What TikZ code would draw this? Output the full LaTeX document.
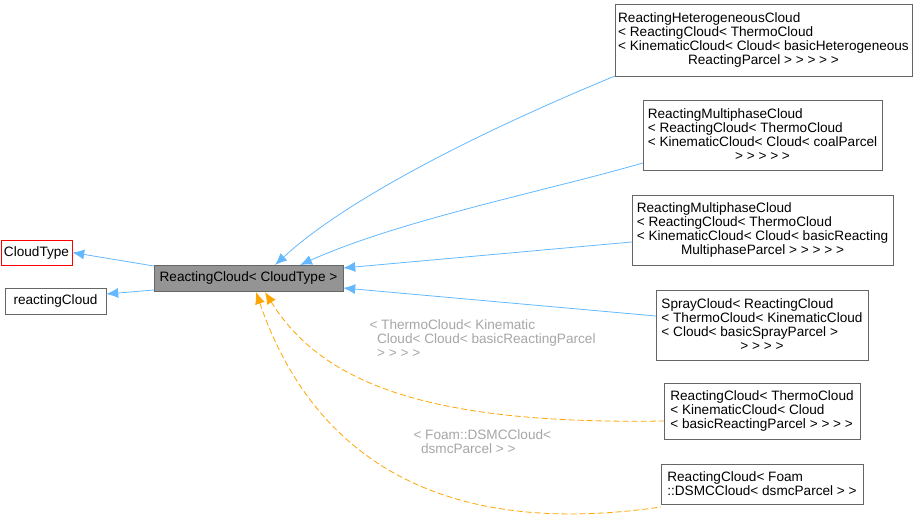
\documentclass[tikz,border=0pt]{standalone}
\usepackage{fontspec}
\setmainfont{Liberation Sans}
\usetikzlibrary{arrows.meta,positioning}
\definecolor{inhblue}{RGB}{99,184,255}
\definecolor{tmplorange}{RGB}{255,165,0}
\begin{document}
\begin{tikzpicture}[
	x=1pt,y=-1pt,
	font=\fontsize{13.6}{14}\selectfont,
	box/.style={draw=black!60,fill=white,inner sep=3pt,align=left},
	inh/.style={draw=inhblue,thick,{Latex[length=12pt,width=10pt]}-},
	tmpl/.style={draw=tmplorange,thick,dash pattern=on 6pt off 3pt,{Latex[length=12pt,width=10pt]}-},
	lbl/.style={text=black!35,align=left}
	]
	\useasboundingbox (0,0) rectangle (917,518);

	%% base classes
	\node[box,draw=red,minimum width=63pt,minimum height=25pt] (CT) at (36.5,252.5) {CloudType};
	\node[box,minimum width=101pt,minimum height=26pt] (rc) at (55.5,301) {reactingCloud};

	%% the class
	\node[box,fill=black!42,minimum width=189pt,minimum height=26pt] (RC) at (248.5,278) {ReactingCloud< CloudType >};

	%% derived classes
	\node[box,minimum width=295pt,minimum height=72pt] (het) at (763.5,40)
		{ReactingHeterogeneousCloud\\< ReactingCloud< ThermoCloud\\< KinematicCloud< Cloud< basicHeterogeneous\\\hspace*{\fill}ReactingParcel > > > > >\hspace*{\fill}};
	\node[box,minimum width=239pt,minimum height=70pt] (coal) at (762.5,135)
		{ReactingMultiphaseCloud\\< ReactingCloud< ThermoCloud\\< KinematicCloud< Cloud< coalParcel\\\hspace*{\fill}> > > > >\hspace*{\fill}};
	\node[box,minimum width=261pt,minimum height=70pt] (multi) at (762.5,230)
		{ReactingMultiphaseCloud\\< ReactingCloud< ThermoCloud\\< KinematicCloud< Cloud< basicReacting\\\hspace*{\fill}MultiphaseParcel > > > > >\hspace*{\fill}};
	\node[box,minimum width=212pt,minimum height=70pt] (spray) at (762,325)
		{SprayCloud< ReactingCloud\\< ThermoCloud< KinematicCloud\\< Cloud< basicSprayParcel >\\\hspace*{\fill}> > > >\hspace*{\fill}};
	\node[box,minimum width=196pt,minimum height=56pt] (basic) at (762,411)
		{ReactingCloud< ThermoCloud\\< KinematicCloud< Cloud\\< basicReactingParcel > > > >};
	\node[box,minimum width=202pt,minimum height=40pt] (dsmc) at (762,484)
		{ReactingCloud< Foam\\::DSMCCloud< dsmcParcel > >};

	%% inheritance
	\draw[inh] (CT.east) -- (RC.west |- 0,266);
	\draw[inh] (rc.east|-0,294) -- (RC.west |- 0,290);
	\draw[inh] (275,265) .. controls (340,205) and (460,140) .. (het.west |- 0,76);
	\draw[inh] (300,265) .. controls (400,220) and (550,190) .. (coal.west |- 0,163);
	\draw[inh] (RC.east |- 0,268) -- (multi.west |- 0,242);
	\draw[inh] (RC.east |- 0,288) -- (spray.west |- 0,316);

	%% template instances
	\draw[tmpl] (265,292) .. controls (320,380) and (420,425) .. (basic.west |- 0,421);
	\draw[tmpl] (256,292) .. controls (300,420) and (400,545) .. (dsmc.west |- 0,507);
	\node[lbl,anchor=north west] (l1) at (366,316) {< ThermoCloud< Kinematic\\\ \ Cloud< Cloud< basicReactingParcel\\\ \ > > > >};
	\node[lbl,anchor=north west] (l2) at (410,426) {< Foam::DSMCCloud<\\\ \ dsmcParcel > >};
\end{tikzpicture}
\end{document}
